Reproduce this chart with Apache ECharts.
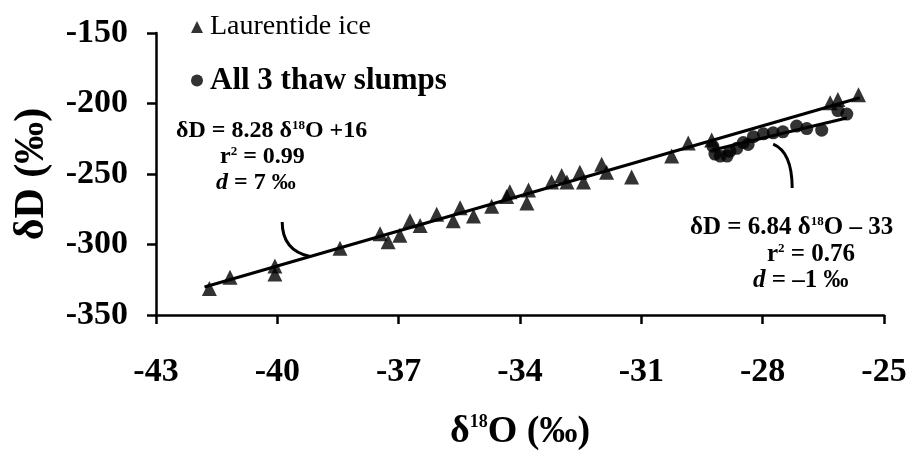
<!DOCTYPE html>
<html>
<head>
<meta charset="utf-8">
<script src="https://cdn.jsdelivr.net/npm/echarts@6/dist/echarts.min.js"></script>
<style>html,body{margin:0;padding:0;background:#fff;}#c{width:921px;height:456px;}</style>
</head>
<body>
<div id="c"></div>
<script>
// Laurentide ice samples [δ18O, δD]
const iceO = [-41.68,-41.17,-40.06,-40.06,-38.45,-37.46,-37.26,-36.97,-36.72,-36.47,-36.06,-35.65,-35.48,-35.15,-34.70,-34.33,-34.25,-33.79,-33.83,-33.22,-32.97,-32.84,-32.52,-32.43,-31.98,-31.86,-31.24,-30.25,-29.84,-29.26,-26.33,-26.14,-25.63];
const iceD = [-331.2,-323.2,-315.2,-320.9,-302.6,-292.3,-298.0,-293.4,-283.1,-286.6,-278.5,-283.1,-273.9,-279.7,-272.8,-265.9,-262.5,-261.3,-270.5,-255.6,-251.0,-255.6,-248.8,-255.6,-243.0,-248.8,-252.2,-237.3,-228.1,-225.8,-199.5,-197.2,-193.8];
// Thaw slump samples
const slumpO = [-29.23,-29.18,-29.05,-28.88,-28.81,-28.64,-28.48,-28.36,-28.23,-27.98,-27.74,-27.50,-27.16,-26.91,-26.54,-26.14,-25.92];
const slumpD = [-230.4,-235.9,-237.3,-237.3,-233.8,-231.8,-227.7,-229.0,-223.5,-221.5,-220.8,-220.1,-216.0,-217.8,-218.9,-205.0,-207.5];
// Regression lines: slope, intercept, x-range
const fitIce = {slope: 8.28, intercept: 16, from: -41.8, to: -25.6};
const fitSlump = {slope: 6.84, intercept: -33, from: -29.23, to: -25.92};
const xTicks = {min: -43, max: -25, interval: 3};
const yTicks = {min: -350, max: -150, interval: 50};
const legendNames = ['Laurentide ice', 'All 3 thaw slumps'];

const FONT = '"Liberation Serif", "Times New Roman", serif';
const zip = (a, b) => a.map((v, i) => [v, b[i]]);
const fitPts = f => [[f.from, f.slope * f.from + f.intercept], [f.to, f.slope * f.to + f.intercept]];

const chart = echarts.init(document.getElementById('c'), null, {renderer: 'canvas'});
const axisCommon = {
  axisLine: {show: true, onZero: false, lineStyle: {color: '#000', width: 2.5}},
  axisTick: {show: true, inside: false, length: 9, lineStyle: {color: '#000', width: 2.5}},
  splitLine: {show: false},
  axisLabel: {color: '#000', fontFamily: FONT, fontWeight: 'bold', fontSize: 34}
};
chart.setOption({
  animation: false,
  backgroundColor: '#fff',
  grid: {left: 156, right: 37, top: 33, bottom: 132},
  xAxis: Object.assign({}, axisCommon, {
    type: 'value', min: xTicks.min, max: xTicks.max, interval: xTicks.interval,
    axisLabel: Object.assign({}, axisCommon.axisLabel, {margin: 40}),
    name: '{d|δ}{s|18}{d|O (‰)}', nameLocation: 'middle', nameGap: 98,
    nameTextStyle: {rich: {
      d: {fontFamily: FONT, fontWeight: 'bold', fontSize: 38, color: '#000'},
      s: {fontFamily: FONT, fontWeight: 'bold', fontSize: 18, color: '#000', verticalAlign: 'top', padding: [0, 0, 16, 0]}
    }}
  }),
  yAxis: Object.assign({}, axisCommon, {
    type: 'value', min: yTicks.min, max: yTicks.max, interval: yTicks.interval,
    axisLabel: Object.assign({}, axisCommon.axisLabel, {margin: 28}),
    name: 'δD (‰)', nameLocation: 'middle', nameGap: 103, nameRotate: 90,
    nameTextStyle: {fontFamily: FONT, fontWeight: 'bold', fontSize: 42, color: '#000'}
  }),
  legend: {
    data: [
      {name: legendNames[0], icon: 'triangle', textStyle: {fontWeight: 'normal', fontSize: 28}},
      {name: legendNames[1], icon: 'circle', textStyle: {fontWeight: 'bold', fontSize: 31}}
    ],
    orient: 'vertical', left: 186, top: 8, itemGap: 24, itemWidth: 12, itemHeight: 12,
    textStyle: {fontFamily: FONT, fontSize: 28, color: '#000', padding: [0, 0, 0, 2]}
  },
  series: [
    {type: 'line', data: fitPts(fitIce), showSymbol: false, symbol: 'none', lineStyle: {color: '#000', width: 3}, z: 1},
    {type: 'line', data: fitPts(fitSlump), showSymbol: false, symbol: 'none', lineStyle: {color: '#000', width: 3}, z: 1},
    {name: legendNames[0], type: 'scatter', symbol: 'triangle', symbolSize: 15, itemStyle: {color: '#000'}, data: zip(iceO, iceD), z: 3},
    {name: legendNames[1], type: 'scatter', symbol: 'circle', symbolSize: 13, itemStyle: {color: '#000'}, data: zip(slumpO, slumpD), z: 3}
  ]
});

// annotations
const mkRich = fs => ({
  t: {fontFamily: FONT, fontSize: fs, color: '#000', fontWeight: 'bold'},
  i: {fontFamily: FONT, fontSize: fs, color: '#000', fontWeight: 'bold', fontStyle: 'italic'},
  s: {fontFamily: FONT, fontSize: 13, color: '#000', fontWeight: 'bold', verticalAlign: 'top', padding: [0, 0, 11, 0]}
});
const r1 = mkRich(24), r2 = mkRich(25);
const P = (x, y) => chart.convertToPixel({gridIndex: 0}, [x, y]);
const a1s = P(-39.88, -284), a1e = P(-39.19, fitIce.slope * -39.19 + fitIce.intercept);
const a2s = P(-27.74, fitSlump.slope * -27.74 + fitSlump.intercept - 6), a2e = P(-27.27, -260);
chart.setOption({
  graphic: [
    {type: 'text', left: 176, top: 119, style: {rich: r1, text: '{t|δD = 8.28 δ}{s|18}{t|O +16}'}},
    {type: 'text', left: 220, top: 145, style: {rich: r1, text: '{t|r}{s|2}{t| = 0.99}'}},
    {type: 'text', left: 216, top: 171, style: {rich: r1, text: '{i|d}{t| = 7 ‰}'}},
    {type: 'text', left: 690, top: 215, style: {rich: r2, text: '{t|δD = 6.84 δ}{s|18}{t|O – 33}'}},
    {type: 'text', left: 767, top: 242, style: {rich: r2, text: '{t|r}{s|2}{t| = 0.76}'}},
    {type: 'text', left: 753, top: 268, style: {rich: r2, text: '{i|d}{t| = –1 ‰}'}},
    {type: 'bezierCurve', shape: {x1: a1s[0], y1: a1s[1], x2: a1e[0], y2: a1e[1], cpx1: a1s[0], cpy1: a1e[1] - 6}, style: {stroke: '#000', lineWidth: 3, fill: null}},
    {type: 'bezierCurve', shape: {x1: a2s[0], y1: a2s[1], x2: a2e[0], y2: a2e[1], cpx1: a2e[0], cpy1: a2s[1] + 8}, style: {stroke: '#000', lineWidth: 3, fill: null}}
  ]
});
</script>
</body>
</html>
